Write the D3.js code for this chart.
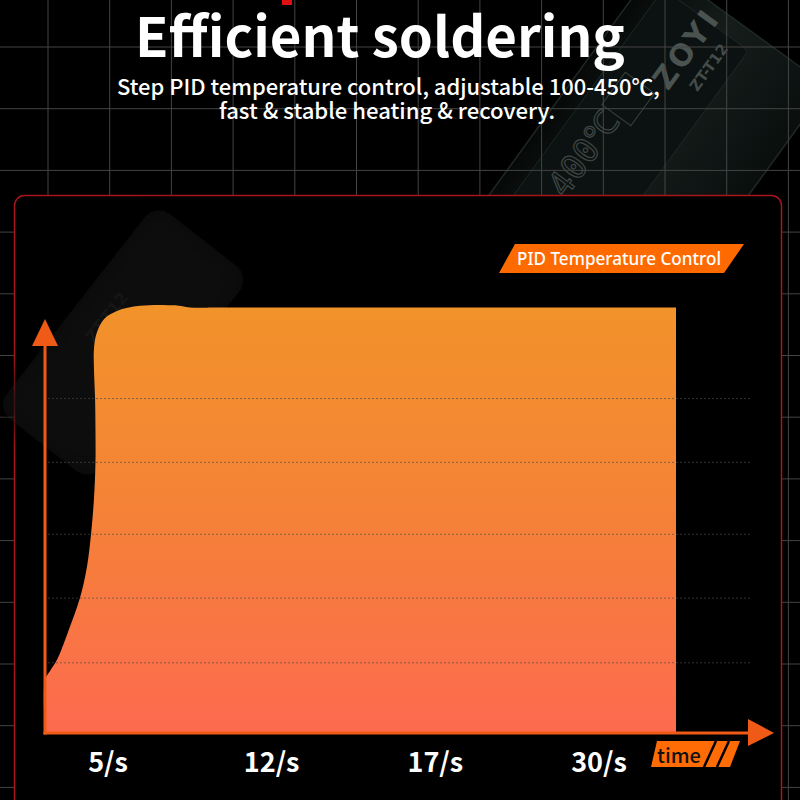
<!DOCTYPE html>
<html>
<head>
<meta charset="utf-8">
<script src="https://cdn.jsdelivr.net/npm/d3@7"></script>
<style>
  body { margin: 0; background: #000; }
  svg { display: block; }
</style>
</head>
<body>
<div id="chart"></div>
<script>
// chart texts
const title = "Efficient soldering";
const subtitle = ["Step PID temperature control, adjustable 100-450\u2103,", "fast & stable heating & recovery."];
const seriesName = "PID Temperature Control";
const axisName = "time";

// x tick labels (evenly spaced in the picture)
const xLabels = ["5/s", "12/s", "17/s", "30/s"];

// heating curve: time (s, 0-30 across the plot) and temperature (% of set point)
const times = [0, 0, 0.24, 0.57, 1.09, 1.66, 2.0, 2.19, 2.33, 2.4, 2.4, 2.38, 2.33, 2.33, 2.47, 2.81, 3.42, 4.52, 6.18, 6.89, 8.3, 30];
const temps = [0, 12.5, 14.6, 17.2, 23.7, 31.7, 39.2, 46.8, 55.2, 63.7, 71.2, 78.7, 85.3, 90.5, 94.2, 97.3, 99.2, 100.4, 100.5, 100, 100, 100];

// dotted reference lines (% of set point)
const gridTemps = [16.5, 31.7, 46.7, 63.6, 78.6];

const width = 800, height = 800;
const orange = "#ef5a17";

// shrink or grow a text so that it takes the given width
function fitText(sel, target) {
    const w = sel.node().getComputedTextLength();
    const fs = parseFloat(sel.style("font-size"));
    sel.style("font-size", (fs * target / w).toFixed(2) + "px");
}

const svg = d3.select("#chart")
    .append("svg")
    .attr("width", width)
    .attr("height", height);

const defs = svg.append("defs");

// device body gradient
const devGrad = defs.append("linearGradient")
    .attr("id", "devGrad")
    .attr("x1", 0).attr("y1", 0).attr("x2", 0).attr("y2", 1);
devGrad.append("stop").attr("offset", "0%").attr("stop-color", "#060908");
devGrad.append("stop").attr("offset", "45%").attr("stop-color", "#151d1b");
devGrad.append("stop").attr("offset", "100%").attr("stop-color", "#0a0f0e");

// area gradient
const areaGrad = defs.append("linearGradient")
    .attr("id", "areaGrad")
    .attr("x1", 0).attr("y1", 0).attr("x2", 0).attr("y2", 1);
areaGrad.append("stop").attr("offset", "0%").attr("stop-color", "#f2932a");
areaGrad.append("stop").attr("offset", "50%").attr("stop-color", "#f58138");
areaGrad.append("stop").attr("offset", "100%").attr("stop-color", "#fd6a4f");

// soft blur for the ghost reflection
defs.append("filter")
    .attr("id", "soft")
    .attr("x", "-30%").attr("y", "-30%").attr("width", "160%").attr("height", "160%")
    .append("feGaussianBlur")
    .attr("stdDeviation", 12);

// background
svg.append("rect").attr("width", width).attr("height", height).attr("fill", "#000");

// soldering station in the top right corner
const device = svg.append("g").attr("transform", "translate(640,120) rotate(-54)");
device.append("rect")
    .attr("x", -520).attr("y", -78)
    .attr("width", 657).attr("height", 210)
    .attr("rx", 22)
    .attr("fill", "url(#devGrad)")
    .attr("stroke", "#1f2826")
    .attr("stroke-width", 1.5);
device.append("rect")
    .attr("x", -470).attr("y", -58)
    .attr("width", 590).attr("height", 105)
    .attr("rx", 6)
    .attr("fill", "#0c1211")
    .attr("stroke", "#1c2523");
device.append("text")
    .attr("x", 85).attr("y", 6)
    .attr("text-anchor", "middle")
    .style("font-family", "'DejaVu Sans', sans-serif")
    .style("font-weight", 700)
    .style("font-size", "30px")
    .style("letter-spacing", "3px")
    .attr("fill", "#4a5350")
    .text("ZOYI");
device.append("text")
    .attr("x", 83).attr("y", 30)
    .attr("text-anchor", "middle")
    .style("font-family", "'DejaVu Sans', sans-serif")
    .style("font-weight", 700)
    .style("font-size", "15px")
    .attr("fill", "#434c49")
    .text("ZT-T12");
device.append("text")
    .attr("x", -60).attr("y", -14)
    .attr("text-anchor", "middle")
    .style("font-family", "'DejaVu Sans Mono', monospace")
    .style("font-size", "34px")
    .attr("fill", "none")
    .attr("stroke", "#3e4744")
    .attr("stroke-width", 1.2)
    .text("400\u2103");
device.append("rect")
    .attr("x", -10).attr("y", -40)
    .attr("width", 40).attr("height", 36)
    .attr("fill", "none")
    .attr("stroke", "#363f3c");

// background grid
const gridStep = 61.7;
const gridX = d3.range(-1, 14).map(i => 48 + i * gridStep);
const gridY = d3.range(-1, 14).map(i => 47 + i * gridStep);
const grid = svg.append("g").attr("stroke", "#444").attr("stroke-width", 1);
grid.selectAll("line.v").data(gridX).enter().append("line")
    .attr("class", "v")
    .attr("x1", d => d).attr("x2", d => d)
    .attr("y1", 0).attr("y2", height);
grid.selectAll("line.h").data(gridY).enter().append("line")
    .attr("class", "h")
    .attr("y1", d => d).attr("y2", d => d)
    .attr("x1", 0).attr("x2", width);

// small red mark at the top edge
svg.append("rect").attr("x", 282).attr("y", 0).attr("width", 10).attr("height", 5).attr("fill", "#e01010");

// title and subtitle
const titleText = svg.append("text")
    .attr("x", 380).attr("y", 57)
    .attr("text-anchor", "middle")
    .style("font-family", "'Noto Sans CJK SC', 'Noto Sans', sans-serif")
    .style("font-weight", 700)
    .style("font-size", "56px")
    .attr("fill", "#fff")
    .text(title);
fitText(titleText, 490);

const subWidths = [543, 336];
svg.selectAll("text.sub")
    .data(subtitle)
    .enter()
    .append("text")
    .attr("class", "sub")
    .attr("x", (d, i) => i == 0 ? 388.5 : 387)
    .attr("y", (d, i) => 95 + i * 24)
    .attr("text-anchor", "middle")
    .style("font-family", "'Noto Sans CJK SC', 'Noto Sans', sans-serif")
    .style("font-weight", 500)
    .style("font-size", "20px")
    .attr("fill", "#fff")
    .text(d => d)
    .each(function (d, i) { fitText(d3.select(this), subWidths[i]); });

// chart panel
svg.append("rect")
    .attr("x", 14.5).attr("y", 195.5)
    .attr("width", 767).attr("height", 650)
    .attr("rx", 10)
    .attr("fill", "#000")
    .attr("stroke", "#a8161b")
    .attr("stroke-width", 1.5);

// faint ghost of the device inside the panel
const ghost = svg.append("g").attr("transform", "translate(150,300) rotate(-52)");
ghost.append("rect")
    .attr("x", -180).attr("y", -55)
    .attr("width", 260).attr("height", 120)
    .attr("rx", 18)
    .attr("fill", "#0a0a0a")
    .attr("filter", "url(#soft)");
ghost.append("text")
    .attr("x", -40).attr("y", -18)
    .attr("text-anchor", "middle")
    .style("font-family", "'DejaVu Sans', sans-serif")
    .style("font-weight", 700)
    .style("font-size", "16px")
    .attr("fill", "#151616")
    .text("ZT-T12");

// scales
const x = d3.scaleLinear().domain([0, 30]).range([45, 676]);
const y = d3.scaleLinear().domain([0, 100]).range([733, 307.5]);
const xLab = d3.scalePoint().domain(xLabels).range([108, 599]);

// heating area
const pts = times.map((t, i) => [x(t), y(temps[i])]);
const line = d3.line().curve(d3.curveCatmullRom.alpha(0.5));
svg.append("path")
    .attr("d", line(pts) + `L${x(30)},${y(0)}L${x(0)},${y(0)}Z`)
    .attr("fill", "url(#areaGrad)");

// dotted reference lines
svg.append("g")
    .selectAll("line")
    .data(gridTemps)
    .enter()
    .append("line")
    .attr("x1", 48).attr("x2", 750)
    .attr("y1", d => y(d)).attr("y2", d => y(d))
    .attr("stroke", "#4a4a4a")
    .attr("stroke-opacity", 0.65)
    .attr("stroke-width", 1)
    .attr("stroke-dasharray", "2,2");

// axes with arrow heads
const axes = svg.append("g").attr("fill", orange);
axes.append("line")
    .attr("x1", x(0)).attr("x2", x(0))
    .attr("y1", y(0) + 1.5).attr("y2", 346)
    .attr("stroke", orange).attr("stroke-width", 3);
axes.append("path").attr("d", `M${x(0)},319L${x(0) - 13},346L${x(0) + 13},346Z`);
axes.append("line")
    .attr("x1", x(0) - 1.5).attr("x2", 748)
    .attr("y1", y(0)).attr("y2", y(0))
    .attr("stroke", orange).attr("stroke-width", 3);
axes.append("path").attr("d", `M774,${y(0)}L748,${y(0) - 14}L748,${y(0) + 13}Z`);

// x tick labels
svg.selectAll("text.xlab")
    .data(xLabels)
    .enter()
    .append("text")
    .attr("class", "xlab")
    .attr("x", d => xLab(d))
    .attr("y", 772)
    .attr("text-anchor", "middle")
    .style("font-family", "'Noto Sans CJK SC', 'Noto Sans', sans-serif")
    .style("font-weight", 700)
    .style("font-size", "27px")
    .attr("fill", "#fff")
    .text(d => d);

// "time" badge
const tb = svg.append("g");
tb.append("path").attr("d", "M657,741L740,741L730,767L651,767Z").attr("fill", "#ff6c05");
tb.append("path").attr("d", "M716,741L704,767M729,741L717,767").attr("stroke", "#000").attr("stroke-width", 2.5);
tb.append("text")
    .attr("x", 657).attr("y", 763)
    .style("font-family", "'Noto Sans CJK SC', 'Noto Sans', sans-serif")
    .style("font-weight", 500)
    .style("font-size", "20px")
    .attr("fill", "#111")
    .text(axisName);

// series badge
const sb = svg.append("g");
sb.append("path").attr("d", "M515,244L744,244L724,273L499,273Z").attr("fill", "#ff6a00");
const sbText = sb.append("text")
    .attr("x", 517).attr("y", 265)
    .style("font-family", "'Noto Sans', sans-serif")
    .style("font-weight", 500)
    .style("font-size", "16px")
    .attr("fill", "#fff")
    .text(seriesName);
fitText(sbText, 204);
</script>
</body>
</html>
